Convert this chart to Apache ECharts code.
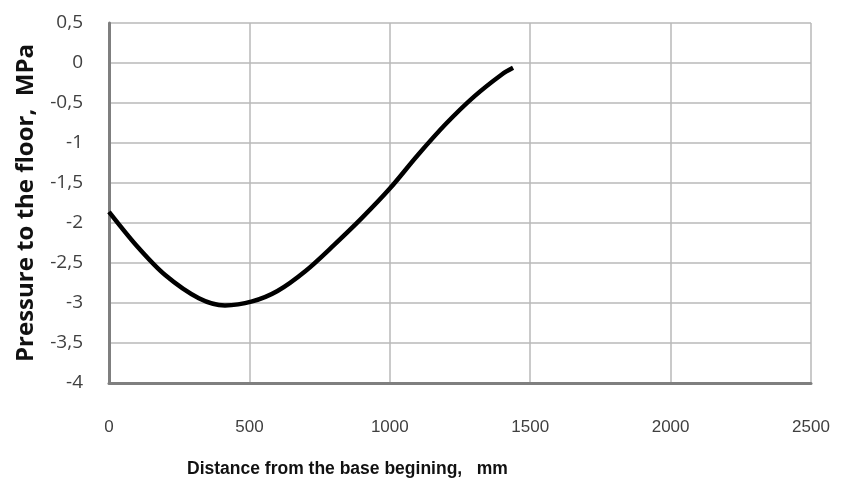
<!DOCTYPE html>
<html>
<head>
<meta charset="utf-8">
<script src="https://cdn.jsdelivr.net/npm/echarts@6/dist/echarts.min.js"></script>
<style>
  html, body { margin: 0; padding: 0; background: #fff; }
  #chart { width: 843px; height: 484px; }
</style>
</head>
<body>
<div id="chart"></div>
<script>
// Давление на пол вдоль основания: одна гладкая кривая, оси в стиле Excel.

// distance from the base beginning, mm
const distance = [0, 100, 200, 320, 413, 510, 600, 700, 800, 900, 1000, 1100, 1200, 1300, 1400, 1439];
// pressure to the floor, MPa
const pressure = [-1.86, -2.29, -2.65, -2.94, -3.03, -2.98, -2.85, -2.6, -2.28, -1.94, -1.57, -1.15, -0.76, -0.42, -0.14, -0.06];

const xTitle = 'Distance from the base begining,   mm';
const yTitle = 'Pressure to the floor,  MPa';

const chart = echarts.init(document.getElementById('chart'));

const points = distance.map((d, i) => [d, pressure[i]]);

chart.setOption({
  animation: false,
  backgroundColor: '#fff',
  title: {
    text: xTitle,
    left: 182,
    top: 455,
    textStyle: {
      fontFamily: '"Liberation Sans", sans-serif',
      fontSize: 17.5,
      fontWeight: 'bold',
      color: '#111',
    },
  },
  grid: { left: 109, right: 32, top: 23, bottom: 101 },
  xAxis: {
    type: 'value',
    min: 0,
    max: 2500,
    interval: 500,
    axisLine: { show: true, onZero: false, lineStyle: { color: '#7f7f7f', width: 3 } },
    axisTick: { show: false },
    splitLine: { show: true, lineStyle: { color: '#b8b8b8', width: 1.5 } },
    axisLabel: {
      margin: 36,
      fontFamily: '"Liberation Sans", sans-serif',
      fontSize: 17,
      color: '#404040',
      showMaxLabel: true,
      formatter: (v) => String(v),
    },
  },
  yAxis: {
    type: 'value',
    min: -4,
    max: 0.5,
    interval: 0.5,
    name: yTitle,
    nameLocation: 'middle',
    nameGap: 71,
    nameTextStyle: {
      fontFamily: '"Open Sans", sans-serif',
      fontSize: 24,
      fontWeight: 'bold',
      color: '#111',
    },
    axisLine: { show: true, lineStyle: { color: '#7f7f7f', width: 3 } },
    axisTick: { show: false },
    splitLine: { show: true, lineStyle: { color: '#b8b8b8', width: 1.5 } },
    axisLabel: {
      margin: 26,
      fontFamily: '"Open Sans", sans-serif',
      fontSize: 19,
      color: '#404040',
      formatter: (v) => String(v).replace('.', ','),
    },
  },
  series: [
    {
      type: 'line',
      data: points,
      smooth: 0.3,
      symbol: 'none',
      lineStyle: { color: '#000', width: 4.5 },
    },
  ],
});
</script>
</body>
</html>
